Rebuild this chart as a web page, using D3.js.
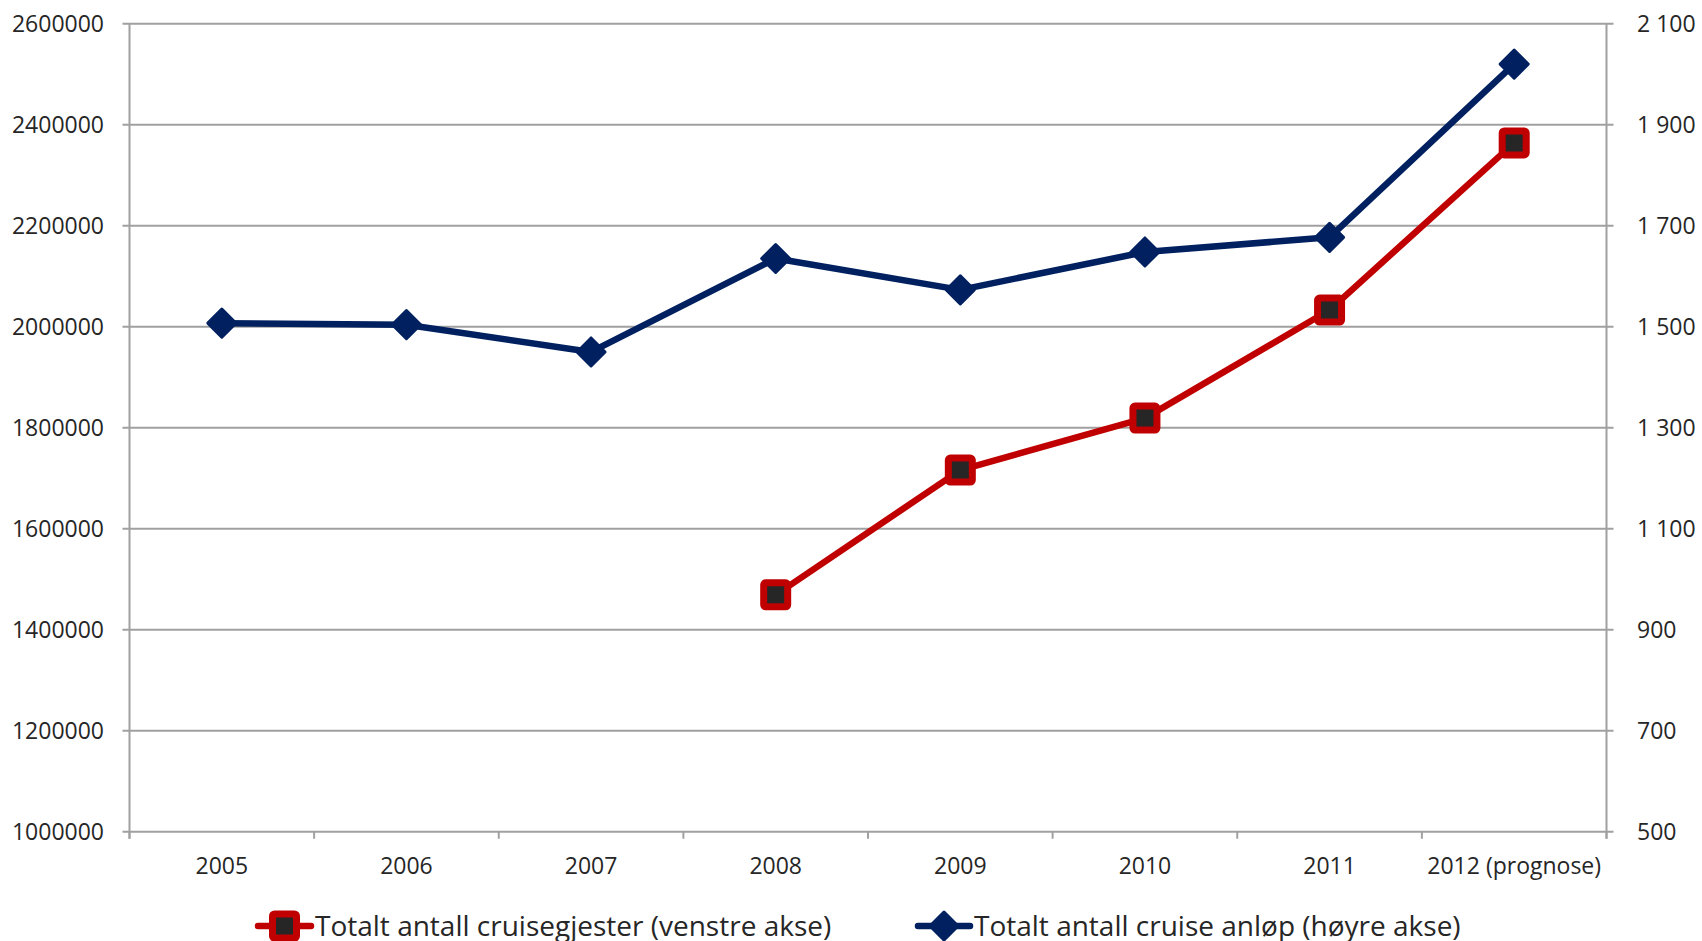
<!DOCTYPE html>
<html><head><meta charset="utf-8">
<script src="https://cdn.jsdelivr.net/npm/d3@7"></script>
<style>body{margin:0;background:#fff}svg{display:block}text{font-family:"Open Sans",sans-serif;fill:#262626}</style>
</head><body>
<svg id="c" width="1702" height="941"></svg>
<script>
const categories = ["2005","2006","2007","2008","2009","2010","2011","2012 (prognose)"];
const guests = [null,null,null,1469000,1716000,1819000,2033000,2364000];
const calls = [1507,1504,1450,1635,1573,1648,1677,2020];
const leftTicks = [1000000,1200000,1400000,1600000,1800000,2000000,2200000,2400000,2600000];
const rightTicks = [500,700,900,1100,1300,1500,1700,1900,2100];
const legendLabels = ["Totalt antall cruisegjester (venstre akse)","Totalt antall cruise anløp (høyre akse)"];

const svg = d3.select("#c");
const L = 129.5, R = 1606.5, T = 23.7, B = 831.7;
const x = d3.scaleBand().domain(categories).range([L,R]);
const yL = d3.scaleLinear().domain([1000000,2600000]).range([B,T]);
const yR = d3.scaleLinear().domain([500,2100]).range([B,T]);
const grid = "#a0a0a0", red = "#c00000", navy = "#002060";

// gridlines
svg.append("g").selectAll("line").data(leftTicks).join("line")
  .attr("x1",L-7).attr("x2",R+7).attr("y1",d=>yL(d)).attr("y2",d=>yL(d))
  .attr("stroke",grid).attr("stroke-width",2);
// axes lines
svg.append("line").attr("x1",L).attr("x2",L).attr("y1",T).attr("y2",B+7).attr("stroke",grid).attr("stroke-width",2);
svg.append("line").attr("x1",R).attr("x2",R).attr("y1",T).attr("y2",B+7).attr("stroke",grid).attr("stroke-width",2);
// category ticks
const bounds = categories.map(c=>x(c)).concat([R]);
svg.append("g").selectAll("line").data(bounds).join("line")
  .attr("x1",d=>d).attr("x2",d=>d).attr("y1",B).attr("y2",B+7).attr("stroke",grid).attr("stroke-width",2);

// labels
svg.append("g").selectAll("text").data(leftTicks).join("text")
  .attr("x",104).attr("y",d=>yL(d)).attr("dy","0.36em").attr("text-anchor","end")
  .style("font-size","23px").text(d=>d3.format("d")(d));
const rfmt = d => { const s = String(d); return s.length>3 ? s.slice(0,s.length-3)+" "+s.slice(-3) : s; };
svg.append("g").selectAll("text").data(rightTicks).join("text")
  .attr("x",1637).attr("y",d=>yR(d)).attr("dy","0.36em").attr("text-anchor","start")
  .style("font-size","23px").text(rfmt);
svg.append("g").selectAll("text").data(categories).join("text")
  .attr("x",d=>x(d)+x.bandwidth()/2).attr("y",874).attr("text-anchor","middle")
  .style("font-size","23px").text(d=>d);

const cx = d=>x(d)+x.bandwidth()/2;
// red series
const redData = categories.map((c,i)=>({c,v:guests[i]}));
svg.append("path").datum(redData)
  .attr("d",d3.line().defined(d=>d.v!=null).x(d=>cx(d.c)).y(d=>yL(d.v)))
  .attr("fill","none").attr("stroke",red).attr("stroke-width",6.5).attr("stroke-linejoin","round");
// blue series
const blueData = categories.map((c,i)=>({c,v:calls[i]}));
svg.append("path").datum(blueData)
  .attr("d",d3.line().x(d=>cx(d.c)).y(d=>yR(d.v)))
  .attr("fill","none").attr("stroke",navy).attr("stroke-width",6.5).attr("stroke-linejoin","round");

function square(g,px,py){
  g.append("rect").attr("x",px-12).attr("y",py-12).attr("width",24).attr("height",24).attr("rx",2)
   .attr("fill","#262626").attr("stroke",red).attr("stroke-width",7).attr("stroke-linejoin","round");
}
function diamond(g,px,py){
  const h=14;
  g.append("path").attr("d",`M${px},${py-h}L${px+h},${py}L${px},${py+h}L${px-h},${py}Z`)
   .attr("fill",navy).attr("stroke",navy).attr("stroke-width",3).attr("stroke-linejoin","round");
}
const mg = svg.append("g");
redData.filter(d=>d.v!=null).forEach(d=>square(mg,cx(d.c),yL(d.v)));
blueData.forEach(d=>diamond(mg,cx(d.c),yR(d.v)));

// legend
const ly = 926;
const lg = svg.append("g");
lg.append("line").attr("x1",258).attr("x2",311).attr("y1",ly).attr("y2",ly).attr("stroke",red).attr("stroke-width",6.5).attr("stroke-linecap","round");
square(lg,284.5,ly);
lg.append("text").attr("x",315).attr("y",ly).attr("dy","0.36em").style("font-size","28px").text(legendLabels[0]);
lg.append("line").attr("x1",918).attr("x2",970).attr("y1",ly).attr("y2",ly).attr("stroke",navy).attr("stroke-width",6.5).attr("stroke-linecap","round");
diamond(lg,944,ly);
lg.append("text").attr("x",974).attr("y",ly).attr("dy","0.36em").style("font-size","28px").text(legendLabels[1]);
</script>
</body></html>
